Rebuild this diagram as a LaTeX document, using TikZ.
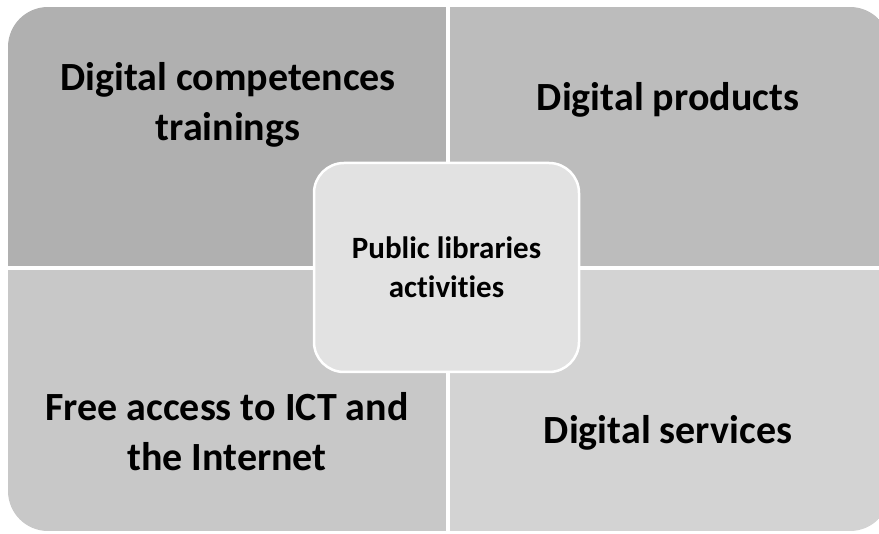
\documentclass[tikz,border=0pt]{standalone}
\usepackage{fontspec}
\setmainfont{Carlito}[Ligatures=NoCommon]
\definecolor{qtl}{HTML}{B0B0B0}
\definecolor{qtr}{HTML}{BCBCBC}
\definecolor{qbl}{HTML}{C8C8C8}
\definecolor{qbr}{HTML}{D3D3D3}
\definecolor{hub}{HTML}{E2E2E2}
\begin{document}
\begin{tikzpicture}[x=1pt,y=-1pt,
  quadtext/.style={font=\fontsize{40}{50}\selectfont\bfseries, align=center, text=black, inner sep=0pt},
  hubbox/.style={fill=hub, draw=white, line width=2.5pt, rounded corners=30pt,
    minimum width=265pt, minimum height=209pt, inner sep=0pt,
    font=\fontsize{31}{39}\selectfont\bfseries, align=center}]
\useasboundingbox (0,0) rectangle (879,534);
% four quadrants, clipped to one rounded outline
\begin{scope}
  \clip[rounded corners=40pt] (8,7) rectangle (890,531);
  \fill[qtl] (8,7) rectangle (446,266);
  \fill[qtr] (450,7) rectangle (890,266);
  \fill[qbl] (8,270) rectangle (446,531);
  \fill[qbr] (450,270) rectangle (890,531);
\end{scope}
% quadrant labels
\node[quadtext] (tl) at (228,105) {Digital competences\\trainings};
\node[quadtext] (tr) at (668,100) {Digital products};
\node[quadtext] (bl) at (227,432) {Free access to ICT and\\the Internet};
\node[quadtext] (br) at (668,433) {Digital services};
% central box
\node[hubbox] (hub) at (446.5,267.5) {Public libraries\\activities};
\end{tikzpicture}
\end{document}
